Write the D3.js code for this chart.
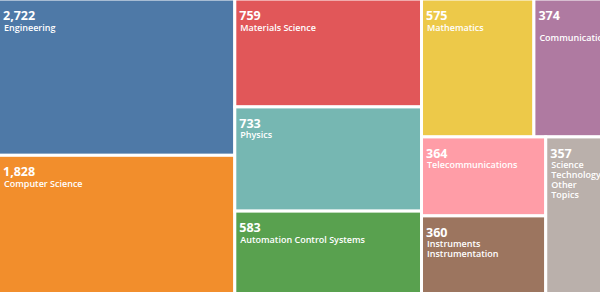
<!DOCTYPE html>
<html>
<head>
<meta charset="utf-8">
<script src="https://cdn.jsdelivr.net/npm/d3@7"></script>
<style>
  html, body { margin: 0; padding: 0; overflow: hidden; background: #fff; }
  svg { display: block; }
  text { font-family: "Open Sans", "Noto Sans", sans-serif; fill: #fff; }
</style>
</head>
<body>
<div id="chart"></div>
<script>
// ---- data ----
const categories = [
  "Engineering", "Computer Science", "Materials Science", "Physics",
  "Automation Control Systems", "Mathematics", "Communication",
  "Telecommunications", "Instruments Instrumentation", "Science Technology Other Topics"
];
const counts = [2722, 1828, 759, 733, 583, 575, 374, 364, 360, 357];

// ---- layout structure (which categories are grouped, by index) ----
const layoutTree = {
  split: "dice", compress: true, children: [
    { split: "slice", compress: true, children: [0, 1] },
    { split: "slice", children: [2, 3, 4] },
    { split: "slice", children: [
      { split: "dice", children: [5, 6] },
      { split: "dice", children: [{ split: "slice", children: [7, 8] }, 9] }
    ]}
  ]
};

const W = 600, H = 292;
const areaW = 608.5, areaH = 295;   // treemap extends slightly past the visible frame
const offX = -1.5, offY = -1;
const fmt = d3.format(",");
const color = d3.scaleOrdinal(categories, d3.schemeTableau10);

const root = d3.hierarchy(layoutTree, d => d.children
    ? d.children.map(c => typeof c === "number" ? { index: c } : c) : null)
  .sum(d => d.index != null ? counts[d.index] : 0);

function tile(parent, x0, y0, x1, y1) {
  const spec = parent.data;
  const kids = parent.children;
  const w = kids.map(k => spec.compress ? Math.pow(k.value, 0.3) : k.value);
  const total = d3.sum(w);
  let acc = 0;
  kids.forEach((k, i) => {
    const a = acc / total, b = (acc + w[i]) / total;
    if (spec.split === "dice") {
      k.x0 = x0 + a * (x1 - x0); k.x1 = x0 + b * (x1 - x0); k.y0 = y0; k.y1 = y1;
    } else {
      k.y0 = y0 + a * (y1 - y0); k.y1 = y0 + b * (y1 - y0); k.x0 = x0; k.x1 = x1;
    }
    acc += w[i];
  });
}

d3.treemap().size([areaW, areaH]).tile(tile)(root);

const svg = d3.select("#chart").append("svg")
  .attr("width", W).attr("height", H);
const plot = svg.append("g").attr("transform", `translate(${offX},${offY})`);

const leaves = root.leaves();
const g = plot.selectAll("g.cell").data(leaves).join("g").attr("class", "cell");

g.append("clipPath").attr("id", (d, i) => "clip" + i)
  .append("rect")
  .attr("x", d => d.x0).attr("y", d => d.y0)
  .attr("width", d => d.x1 - d.x0).attr("height", d => d.y1 - d.y0);

g.append("rect")
  .attr("x", d => d.x0).attr("y", d => d.y0)
  .attr("width", d => d.x1 - d.x0).attr("height", d => d.y1 - d.y0)
  .attr("fill", d => color(categories[d.data.index]))
  .attr("stroke", "#fff").attr("stroke-width", 3);

const labels = g.append("g").attr("clip-path", (d, i) => `url(#clip${i})`);

labels.append("text")
  .attr("x", d => Math.max(d.x0, 0) + 4.5).attr("y", d => Math.max(d.y0, 0) + 21)
  .attr("font-size", 12.5).attr("font-weight", 700)
  .text(d => fmt(counts[d.data.index]));

// word wrap for category names
const measure = svg.append("text").attr("font-size", 9).attr("font-weight", 600)
  .attr("visibility", "hidden");
function textWidth(s) { measure.text(s); return measure.node().getComputedTextLength(); }

labels.each(function(d) {
  const name = categories[d.data.index];
  const avail = d.x1 - d.x0 - 8;
  let lines;
  if (textWidth(name) <= avail) lines = [name];
  else {
    const words = name.split(" ");
    if (words.length === 1) lines = ["", name];
    else lines = words;
  }
  const t = d3.select(this).append("text")
    .attr("font-size", 9).attr("font-weight", 600);
  const bx = Math.max(d.x0, 0) + 5.5, by = Math.max(d.y0, 0) + 31.5;
  lines.forEach((ln, j) => {
    t.append("tspan").attr("x", bx).attr("y", by + j * 10).text(ln);
  });
});
measure.remove();
</script>
</body>
</html>
